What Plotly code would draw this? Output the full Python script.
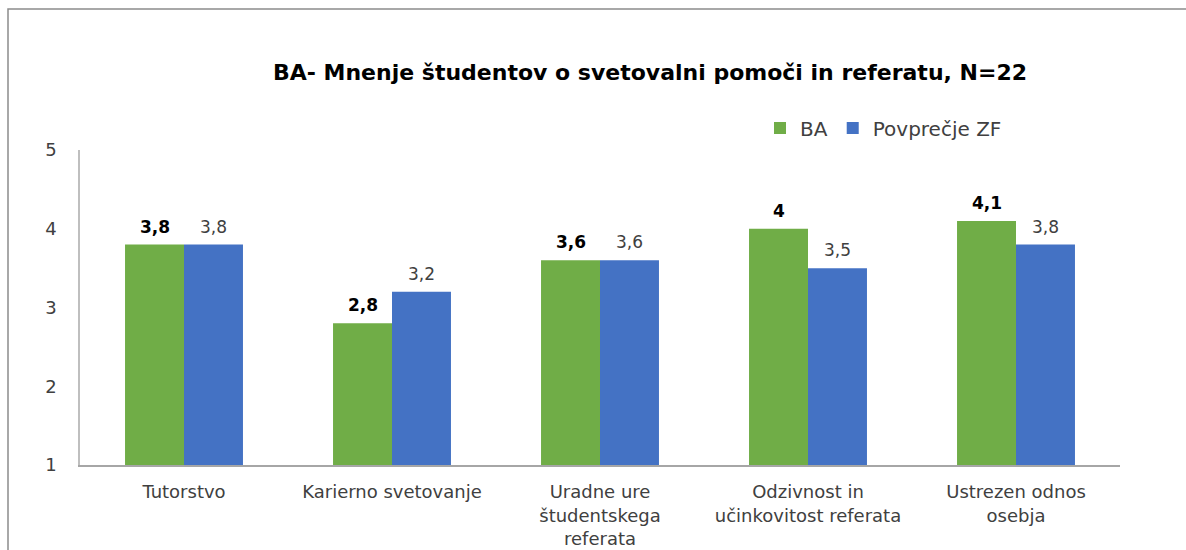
import plotly.graph_objects as go

categories = ["Tutorstvo", "Karierno svetovanje", "Uradne ure<br>študentskega<br>referata",
              "Odzivnost in<br>učinkovitost referata", "Ustrezen odnos<br>osebja"]
ba_values = [3.8, 2.8, 3.6, 4.0, 4.1]
zf_values = [3.8, 3.2, 3.6, 3.5, 3.8]
ba_labels = ["3,8", "2,8", "3,6", "4", "4,1"]
zf_labels = ["3,8", "3,2", "3,6", "3,5", "3,8"]
series_names = ["BA", "Povprečje ZF"]
y_ticks = [1, 2, 3, 4, 5]

GREEN = "#70AD47"
BLUE = "#4472C4"
FONT = "DejaVu Sans"
BARGAP = 0.433

W, H = 1186, 550
ML, MR, MT, MB = 80, 66, 150, 85
PW, PH = W - ML - MR, H - MT - MB

fig = go.Figure()
fig.add_trace(go.Bar(name=series_names[0], x=categories, y=ba_values, base=0,
                     marker=dict(color=GREEN, line=dict(width=0))))
fig.add_trace(go.Bar(name=series_names[1], x=categories, y=zf_values, base=0,
                     marker=dict(color=BLUE, line=dict(width=0))))

off = (1 - BARGAP) / 4
for i in range(len(categories)):
    fig.add_annotation(x=i - off, y=ba_values[i], text="<b>" + ba_labels[i] + "</b>",
                       showarrow=False, yanchor="bottom", yshift=6,
                       font=dict(family=FONT, size=17, color="#000000"))
    fig.add_annotation(x=i + off, y=zf_values[i], text=zf_labels[i],
                       showarrow=False, yanchor="bottom", yshift=6,
                       font=dict(family=FONT, size=17, color="#404040"))

# outer border
fig.add_shape(type="rect", xref="paper", yref="paper",
              x0=(8 - ML) / PW, x1=(W + 20 - ML) / PW,
              y0=(PH + MT - (H + 20)) / PH, y1=(PH + MT - 9) / PH,
              line=dict(color="#8C8C8C", width=1.5), fillcolor="rgba(0,0,0,0)", layer="below")

fig.update_layout(
    width=W, height=H,
    margin=dict(l=ML, r=MR, t=MT, b=MB, autoexpand=False),
    paper_bgcolor="white", plot_bgcolor="white",
    barmode="group", bargap=BARGAP, bargroupgap=0,
    font=dict(family=FONT, color="#404040"),
    title=dict(text="<b>BA- Mnenje študentov o svetovalni pomoči in referatu, N=22</b>",
               x=650 / W, xref="container", xanchor="center",
               y=1 - 72 / H, yref="container", yanchor="middle",
               font=dict(family=FONT, size=22, color="#000000")),
    legend=dict(orientation="h", x=(760 - ML) / PW, xanchor="left",
                y=(PH + MT - 128) / PH, yanchor="middle",
                font=dict(family=FONT, size=20, color="#404040"),
                bgcolor="rgba(0,0,0,0)", itemwidth=30, traceorder="normal"),
    showlegend=True,
)
fig.update_xaxes(type="category", showline=True, linecolor="#A6A6A6", linewidth=1.5,
                 showgrid=False, ticks="", tickfont=dict(family=FONT, size=18, color="#404040"),
                 ticklabelstandoff=10, range=[-0.5, len(categories) - 0.5], automargin=False)
fig.update_yaxes(range=[1, 5], tickvals=y_ticks, showline=True, linecolor="#BFBFBF", linewidth=1.5,
                 showgrid=False, zeroline=False, ticks="", ticklabelstandoff=18, automargin=False,
                 tickfont=dict(family=FONT, size=18, color="#404040"))

fig.write_html("out.html", config={"displayModeBar": False},
               post_script="document.body.style.margin='0';")
